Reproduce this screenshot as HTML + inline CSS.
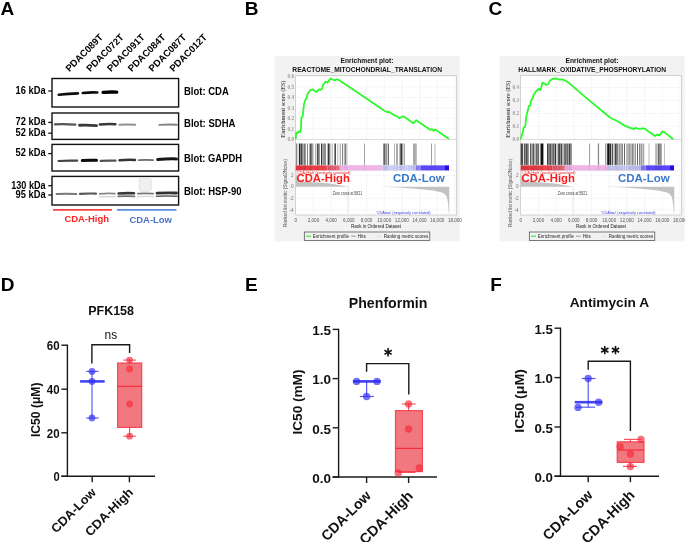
<!DOCTYPE html>
<html><head><meta charset="utf-8"><title>Figure</title>
<style>html,body{margin:0;padding:0;background:#fff;} svg{display:block;filter:blur(0.35px);} text{font-family:"Liberation Sans", sans-serif;}</style>
</head><body>
<svg width="685" height="542" viewBox="0 0 685 542" font-family='"Liberation Sans", sans-serif'>
<defs><filter id="blur1" filterUnits="userSpaceOnUse" x="40" y="70" width="150" height="150"><feGaussianBlur stdDeviation="0.6"/></filter></defs>
<rect width="685" height="542" fill="#fff"/>
<text x="0.60" y="14.60" font-size="19" font-weight="bold" fill="#000" text-anchor="start" >A</text>
<text x="69.40" y="72.20" font-size="9.6" font-weight="bold" fill="#000" text-anchor="start" textLength="48.50" lengthAdjust="spacingAndGlyphs" transform="rotate(-45 69.40 72.20)" >PDAC089T</text>
<text x="90.20" y="72.20" font-size="9.6" font-weight="bold" fill="#000" text-anchor="start" textLength="48.50" lengthAdjust="spacingAndGlyphs" transform="rotate(-45 90.20 72.20)" >PDAC072T</text>
<text x="111.00" y="72.20" font-size="9.6" font-weight="bold" fill="#000" text-anchor="start" textLength="48.50" lengthAdjust="spacingAndGlyphs" transform="rotate(-45 111.00 72.20)" >PDAC091T</text>
<text x="131.80" y="72.20" font-size="9.6" font-weight="bold" fill="#000" text-anchor="start" textLength="48.50" lengthAdjust="spacingAndGlyphs" transform="rotate(-45 131.80 72.20)" >PDAC084T</text>
<text x="152.60" y="72.20" font-size="9.6" font-weight="bold" fill="#000" text-anchor="start" textLength="48.50" lengthAdjust="spacingAndGlyphs" transform="rotate(-45 152.60 72.20)" >PDAC087T</text>
<text x="173.40" y="72.20" font-size="9.6" font-weight="bold" fill="#000" text-anchor="start" textLength="48.50" lengthAdjust="spacingAndGlyphs" transform="rotate(-45 173.40 72.20)" >PDAC012T</text>
<rect x="52.00" y="78.50" width="126.60" height="28.50" fill="none" stroke="#111" stroke-width="1.4" />
<rect x="52.00" y="113.00" width="126.60" height="26.40" fill="none" stroke="#111" stroke-width="1.4" />
<rect x="52.00" y="144.40" width="126.60" height="26.60" fill="none" stroke="#111" stroke-width="1.4" />
<rect x="52.00" y="176.40" width="126.60" height="28.60" fill="none" stroke="#111" stroke-width="1.4" />
<line x1="48.30" y1="91.00" x2="51.80" y2="91.00" stroke="#111" stroke-width="1.3" />
<text x="45.60" y="93.80" font-size="10.3" font-weight="bold" fill="#000" text-anchor="end" textLength="30.00" lengthAdjust="spacingAndGlyphs" >16 kDa</text>
<line x1="48.30" y1="122.40" x2="51.80" y2="122.40" stroke="#111" stroke-width="1.3" />
<text x="45.60" y="125.20" font-size="10.3" font-weight="bold" fill="#000" text-anchor="end" textLength="30.00" lengthAdjust="spacingAndGlyphs" >72 kDa</text>
<line x1="48.30" y1="133.20" x2="51.80" y2="133.20" stroke="#111" stroke-width="1.3" />
<text x="45.60" y="136.00" font-size="10.3" font-weight="bold" fill="#000" text-anchor="end" textLength="30.00" lengthAdjust="spacingAndGlyphs" >52 kDa</text>
<line x1="48.30" y1="153.60" x2="51.80" y2="153.60" stroke="#111" stroke-width="1.3" />
<text x="45.60" y="156.40" font-size="10.3" font-weight="bold" fill="#000" text-anchor="end" textLength="30.00" lengthAdjust="spacingAndGlyphs" >52 kDa</text>
<line x1="48.30" y1="185.70" x2="51.80" y2="185.70" stroke="#111" stroke-width="1.3" />
<text x="45.60" y="188.50" font-size="10.3" font-weight="bold" fill="#000" text-anchor="end" textLength="34.40" lengthAdjust="spacingAndGlyphs" >130 kDa</text>
<line x1="48.30" y1="195.00" x2="51.80" y2="195.00" stroke="#111" stroke-width="1.3" />
<text x="45.60" y="197.80" font-size="10.3" font-weight="bold" fill="#000" text-anchor="end" textLength="30.00" lengthAdjust="spacingAndGlyphs" >95 kDa</text>
<text x="184.00" y="95.00" font-size="10.0" font-weight="bold" fill="#000" text-anchor="start" textLength="44.80" lengthAdjust="spacingAndGlyphs" >Blot: CDA</text>
<text x="184.00" y="127.00" font-size="10.0" font-weight="bold" fill="#000" text-anchor="start" textLength="51.50" lengthAdjust="spacingAndGlyphs" >Blot: SDHA</text>
<text x="184.00" y="161.50" font-size="10.0" font-weight="bold" fill="#000" text-anchor="start" textLength="58.00" lengthAdjust="spacingAndGlyphs" >Blot: GAPDH</text>
<text x="184.00" y="194.70" font-size="10.0" font-weight="bold" fill="#000" text-anchor="start" textLength="57.50" lengthAdjust="spacingAndGlyphs" >Blot: HSP-90</text>
<line x1="53.00" y1="209.80" x2="112.00" y2="209.80" stroke="#f84444" stroke-width="1.7" />
<line x1="117.00" y1="209.80" x2="176.40" y2="209.80" stroke="#5b8fd8" stroke-width="1.7" />
<text x="86.70" y="222.30" font-size="9.8" font-weight="bold" fill="#fa2424" text-anchor="middle" textLength="44.60" lengthAdjust="spacingAndGlyphs" >CDA-High</text>
<text x="150.70" y="222.60" font-size="9.8" font-weight="bold" fill="#4a72c8" text-anchor="middle" textLength="42.60" lengthAdjust="spacingAndGlyphs" >CDA-Low</text>
<g filter="url(#blur1)">
<rect x="139.2" y="178.2" width="12" height="13" rx="2" fill="#f0f0f0" stroke="#e2e2e2" stroke-width="1"/>
<path d="M58.8 94.8 Q68.3 93.6 77.9 93.4" stroke="rgb(16,16,16)" stroke-width="2.6" fill="none" stroke-linecap="round"/>
<path d="M82.8 93.0 Q90.0 92.2 97.3 92.5" stroke="rgb(16,16,16)" stroke-width="2.6" fill="none" stroke-linecap="round"/>
<path d="M103.1 92.4 Q109.9 91.8 116.7 92.1" stroke="rgb(5,5,5)" stroke-width="3.4" fill="none" stroke-linecap="round"/>
<path d="M54.9 124.3 Q65.1 123.9 75.3 124.6" stroke="rgb(85,85,85)" stroke-width="2.3" fill="none" stroke-linecap="round"/>
<path d="M79.5 125.2 Q88.0 124.9 96.5 125.6" stroke="rgb(56,56,56)" stroke-width="2.9" fill="none" stroke-linecap="round"/>
<path d="M99.8 124.5 Q107.6 123.8 115.4 124.2" stroke="rgb(56,56,56)" stroke-width="2.5" fill="none" stroke-linecap="round"/>
<path d="M119.3 124.8 Q127.2 124.3 135.2 124.8" stroke="rgb(144,144,144)" stroke-width="1.9" fill="none" stroke-linecap="round"/>
<path d="M159.4 124.9 Q168.2 124.3 176.9 124.7" stroke="rgb(128,128,128)" stroke-width="1.9" fill="none" stroke-linecap="round"/>
<path d="M58.6 161.0 Q67.9 160.3 77.2 160.7" stroke="rgb(69,69,69)" stroke-width="2.2" fill="none" stroke-linecap="round"/>
<path d="M82.3 160.5 Q89.4 159.9 96.5 160.3" stroke="rgb(8,8,8)" stroke-width="3.0" fill="none" stroke-linecap="round"/>
<path d="M100.7 160.9 Q108.1 160.3 115.5 160.7" stroke="rgb(85,85,85)" stroke-width="2.2" fill="none" stroke-linecap="round"/>
<path d="M119.5 160.3 Q127.2 159.6 135.0 159.9" stroke="rgb(53,53,53)" stroke-width="2.5" fill="none" stroke-linecap="round"/>
<path d="M138.9 160.1 Q145.9 159.6 153.0 160.1" stroke="rgb(106,106,106)" stroke-width="1.9" fill="none" stroke-linecap="round"/>
<path d="M157.7 159.5 Q167.1 158.7 176.5 158.9" stroke="rgb(24,24,24)" stroke-width="3.0" fill="none" stroke-linecap="round"/>
<path d="M56.6 194.1 Q66.5 193.6 76.3 194.1" stroke="rgb(120,120,120)" stroke-width="2.0" fill="none" stroke-linecap="round"/>
<path d="M80.0 193.9 Q88.0 193.2 96.0 193.6" stroke="rgb(88,88,88)" stroke-width="2.1" fill="none" stroke-linecap="round"/>
<path d="M99.5 193.8 Q107.2 193.2 114.8 193.6" stroke="rgb(136,136,136)" stroke-width="1.8" fill="none" stroke-linecap="round"/>
<path d="M118.6 193.5 Q126.3 192.9 134.0 193.3" stroke="rgb(53,53,53)" stroke-width="2.6" fill="none" stroke-linecap="round"/>
<path d="M137.8 193.6 Q145.4 193.1 153.1 193.6" stroke="rgb(120,120,120)" stroke-width="1.7" fill="none" stroke-linecap="round"/>
<path d="M157.0 193.2 Q166.8 192.6 176.5 193.0" stroke="rgb(48,48,48)" stroke-width="2.8" fill="none" stroke-linecap="round"/>
<path d="M118.1 196.4 Q126.3 195.9 134.5 196.4" stroke="rgb(112,112,112)" stroke-width="1.6" fill="none" stroke-linecap="round"/>
<path d="M156.4 196.2 Q166.8 195.7 177.1 196.2" stroke="rgb(96,96,96)" stroke-width="1.6" fill="none" stroke-linecap="round"/>
<path d="M99.3 196.8 Q107.2 196.3 115.0 196.8" stroke="rgb(208,208,208)" stroke-width="1.3" fill="none" stroke-linecap="round"/>
<path d="M137.5 196.6 Q145.4 196.1 153.4 196.6" stroke="rgb(216,216,216)" stroke-width="1.2" fill="none" stroke-linecap="round"/>
</g>
<text x="244.80" y="14.60" font-size="19" font-weight="bold" fill="#000" text-anchor="start" >B</text>
<rect x="274.60" y="56.00" width="185.10" height="185.30" fill="#f2f2f2" stroke="none" stroke-width="1" />
<text x="367.00" y="63.40" font-size="6.7" font-weight="bold" fill="#111" text-anchor="middle" textLength="52.80" lengthAdjust="spacingAndGlyphs" >Enrichment plot:</text>
<text x="367.20" y="72.00" font-size="6.7" font-weight="bold" fill="#111" text-anchor="middle" textLength="149.80" lengthAdjust="spacingAndGlyphs" >REACTOME_MITOCHONDRIAL_TRANSLATION</text>
<rect x="295.70" y="75.60" width="160.90" height="139.40" fill="#fff" stroke="#b8b8b8" stroke-width="0.6" />
<line x1="313.48" y1="75.60" x2="313.48" y2="139.50" stroke="#ececec" stroke-width="0.5" />
<line x1="331.16" y1="75.60" x2="331.16" y2="139.50" stroke="#ececec" stroke-width="0.5" />
<line x1="348.84" y1="75.60" x2="348.84" y2="139.50" stroke="#ececec" stroke-width="0.5" />
<line x1="366.52" y1="75.60" x2="366.52" y2="139.50" stroke="#ececec" stroke-width="0.5" />
<line x1="384.20" y1="75.60" x2="384.20" y2="139.50" stroke="#ececec" stroke-width="0.5" />
<line x1="401.88" y1="75.60" x2="401.88" y2="139.50" stroke="#ececec" stroke-width="0.5" />
<line x1="419.56" y1="75.60" x2="419.56" y2="139.50" stroke="#ececec" stroke-width="0.5" />
<line x1="437.24" y1="75.60" x2="437.24" y2="139.50" stroke="#ececec" stroke-width="0.5" />
<line x1="454.92" y1="75.60" x2="454.92" y2="139.50" stroke="#ececec" stroke-width="0.5" />
<line x1="295.70" y1="139.30" x2="456.60" y2="139.30" stroke="#ececec" stroke-width="0.5" />
<text x="294.10" y="141.00" style="font-family:Liberation Serif, serif" font-size="5.2" font-weight="bold" fill="#999" text-anchor="end">0.0</text>
<line x1="295.70" y1="128.82" x2="456.60" y2="128.82" stroke="#ececec" stroke-width="0.5" />
<text x="294.10" y="130.52" style="font-family:Liberation Serif, serif" font-size="5.2" font-weight="bold" fill="#999" text-anchor="end">0.1</text>
<line x1="295.70" y1="118.34" x2="456.60" y2="118.34" stroke="#ececec" stroke-width="0.5" />
<text x="294.10" y="120.04" style="font-family:Liberation Serif, serif" font-size="5.2" font-weight="bold" fill="#999" text-anchor="end">0.2</text>
<line x1="295.70" y1="107.86" x2="456.60" y2="107.86" stroke="#ececec" stroke-width="0.5" />
<text x="294.10" y="109.56" style="font-family:Liberation Serif, serif" font-size="5.2" font-weight="bold" fill="#999" text-anchor="end">0.3</text>
<line x1="295.70" y1="97.38" x2="456.60" y2="97.38" stroke="#ececec" stroke-width="0.5" />
<text x="294.10" y="99.08" style="font-family:Liberation Serif, serif" font-size="5.2" font-weight="bold" fill="#999" text-anchor="end">0.4</text>
<line x1="295.70" y1="86.90" x2="456.60" y2="86.90" stroke="#ececec" stroke-width="0.5" />
<text x="294.10" y="88.60" style="font-family:Liberation Serif, serif" font-size="5.2" font-weight="bold" fill="#999" text-anchor="end">0.5</text>
<line x1="295.70" y1="76.42" x2="456.60" y2="76.42" stroke="#ececec" stroke-width="0.5" />
<text x="294.10" y="78.12" style="font-family:Liberation Serif, serif" font-size="5.2" font-weight="bold" fill="#999" text-anchor="end">0.6</text>
<polyline points="295.8,139.2 296.2,132.7 297.5,133.3 298.8,131.4 300.1,132.0 301.0,128.8 301.4,117.2 302.7,116.6 303.3,110.7 304.0,104.3 305.3,99.8 306.6,98.5 307.2,95.2 308.5,92.7 310.4,90.1 312.4,89.4 315.0,91.1 316.9,92.0 318.8,89.4 320.8,89.8 322.1,88.5 323.0,84.9 324.6,83.0 325.9,81.7 327.2,82.6 329.2,80.4 330.7,78.5 332.4,79.5 334.6,80.4 336.9,79.4 338.8,80.0 362.7,95.9 384.8,111.0 387.0,112.0 389.2,112.0 394.3,115.2 397.2,116.4 399.4,118.3 402.3,116.4 405.3,117.4 413.3,123.2 416.2,120.3 430.1,129.8 431.8,129.1 433.7,130.7 435.2,129.5 449.1,139.0" fill="none" stroke="#2cfa2c" stroke-width="1.8" stroke-linejoin="round"/>
<rect x="296.20" y="143.50" width="0.70" height="21.50" fill="#555" stroke="none" stroke-width="1" />
<line x1="297.90" y1="143.50" x2="297.90" y2="165.00" stroke="#888" stroke-width="0.6" />
<rect x="299.00" y="143.50" width="1.40" height="21.50" fill="#222" stroke="none" stroke-width="1" />
<rect x="300.80" y="143.50" width="1.00" height="21.50" fill="#111" stroke="none" stroke-width="1" />
<rect x="302.20" y="143.50" width="0.60" height="21.50" fill="#444" stroke="none" stroke-width="1" />
<rect x="303.40" y="143.50" width="1.60" height="21.50" fill="#777" stroke="none" stroke-width="1" />
<rect x="305.00" y="143.50" width="1.00" height="21.50" fill="#999" stroke="none" stroke-width="1" />
<rect x="307.00" y="143.50" width="0.60" height="21.50" fill="#333" stroke="none" stroke-width="1" />
<rect x="309.00" y="143.50" width="0.60" height="21.50" fill="#777" stroke="none" stroke-width="1" />
<rect x="310.00" y="143.50" width="1.00" height="21.50" fill="#555" stroke="none" stroke-width="1" />
<rect x="311.40" y="143.50" width="1.00" height="21.50" fill="#222" stroke="none" stroke-width="1" />
<line x1="313.30" y1="143.50" x2="313.30" y2="165.00" stroke="#999" stroke-width="0.6" />
<rect x="315.50" y="143.50" width="0.70" height="21.50" fill="#666" stroke="none" stroke-width="1" />
<rect x="317.20" y="143.50" width="1.40" height="21.50" fill="#222" stroke="none" stroke-width="1" />
<rect x="319.00" y="143.50" width="0.60" height="21.50" fill="#555" stroke="none" stroke-width="1" />
<rect x="321.00" y="143.50" width="1.40" height="21.50" fill="#333" stroke="none" stroke-width="1" />
<rect x="323.00" y="143.50" width="0.60" height="21.50" fill="#555" stroke="none" stroke-width="1" />
<rect x="324.40" y="143.50" width="1.20" height="21.50" fill="#444" stroke="none" stroke-width="1" />
<rect x="327.00" y="143.50" width="0.60" height="21.50" fill="#888" stroke="none" stroke-width="1" />
<rect x="328.00" y="143.50" width="1.60" height="21.50" fill="#333" stroke="none" stroke-width="1" />
<line x1="330.80" y1="143.50" x2="330.80" y2="165.00" stroke="#777" stroke-width="0.6" />
<rect x="332.00" y="143.50" width="0.60" height="21.50" fill="#999" stroke="none" stroke-width="1" />
<rect x="334.00" y="143.50" width="0.60" height="21.50" fill="#444" stroke="none" stroke-width="1" />
<rect x="335.20" y="143.50" width="0.80" height="21.50" fill="#222" stroke="none" stroke-width="1" />
<line x1="337.80" y1="143.50" x2="337.80" y2="165.00" stroke="#888" stroke-width="0.6" />
<line x1="340.30" y1="143.50" x2="340.30" y2="165.00" stroke="#555" stroke-width="0.6" />
<rect x="342.00" y="143.50" width="0.60" height="21.50" fill="#333" stroke="none" stroke-width="1" />
<line x1="344.30" y1="143.50" x2="344.30" y2="165.00" stroke="#666" stroke-width="0.6" />
<rect x="345.00" y="143.50" width="0.60" height="21.50" fill="#222" stroke="none" stroke-width="1" />
<line x1="346.90" y1="143.50" x2="346.90" y2="165.00" stroke="#777" stroke-width="0.6" />
<rect x="364.40" y="143.50" width="0.60" height="21.50" fill="#666" stroke="none" stroke-width="1" />
<rect x="383.10" y="143.50" width="0.90" height="21.50" fill="#888" stroke="none" stroke-width="1" />
<rect x="384.00" y="143.50" width="1.60" height="21.50" fill="#666" stroke="none" stroke-width="1" />
<rect x="386.00" y="143.50" width="1.00" height="21.50" fill="#999" stroke="none" stroke-width="1" />
<rect x="387.80" y="143.50" width="0.80" height="21.50" fill="#111" stroke="none" stroke-width="1" />
<rect x="394.30" y="143.50" width="0.70" height="21.50" fill="#999" stroke="none" stroke-width="1" />
<rect x="396.40" y="143.50" width="1.20" height="21.50" fill="#777" stroke="none" stroke-width="1" />
<rect x="399.60" y="143.50" width="1.00" height="21.50" fill="#666" stroke="none" stroke-width="1" />
<rect x="400.60" y="143.50" width="1.80" height="21.50" fill="#333" stroke="none" stroke-width="1" />
<line x1="403.10" y1="143.50" x2="403.10" y2="165.00" stroke="#888" stroke-width="0.6" />
<rect x="404.00" y="143.50" width="0.60" height="21.50" fill="#777" stroke="none" stroke-width="1" />
<rect x="413.40" y="143.50" width="0.80" height="21.50" fill="#777" stroke="none" stroke-width="1" />
<rect x="414.60" y="143.50" width="0.80" height="21.50" fill="#444" stroke="none" stroke-width="1" />
<rect x="416.00" y="143.50" width="0.60" height="21.50" fill="#999" stroke="none" stroke-width="1" />
<rect x="431.10" y="143.50" width="0.70" height="21.50" fill="#777" stroke="none" stroke-width="1" />
<rect x="434.60" y="143.50" width="0.80" height="21.50" fill="#aaa" stroke="none" stroke-width="1" />
<line x1="295.70" y1="139.60" x2="456.60" y2="139.60" stroke="#c4c4c4" stroke-width="0.6" />
<rect x="295.80" y="165.20" width="4.20" height="5.40" fill="#ec3440" stroke="none" stroke-width="1" />
<rect x="300.00" y="165.20" width="6.00" height="5.40" fill="#ee3a42" stroke="none" stroke-width="1" />
<rect x="306.00" y="165.20" width="6.00" height="5.40" fill="#ec3c44" stroke="none" stroke-width="1" />
<rect x="312.00" y="165.20" width="6.00" height="5.40" fill="#f04248" stroke="none" stroke-width="1" />
<rect x="318.00" y="165.20" width="6.00" height="5.40" fill="#f0464c" stroke="none" stroke-width="1" />
<rect x="324.00" y="165.20" width="3.50" height="5.40" fill="#ee4a52" stroke="none" stroke-width="1" />
<rect x="327.50" y="165.20" width="4.50" height="5.40" fill="#e85a70" stroke="none" stroke-width="1" />
<rect x="332.00" y="165.20" width="4.00" height="5.40" fill="#e86478" stroke="none" stroke-width="1" />
<rect x="336.00" y="165.20" width="3.80" height="5.40" fill="#ea7084" stroke="none" stroke-width="1" />
<rect x="339.80" y="165.20" width="42.70" height="5.40" fill="#f0b4e6" stroke="none" stroke-width="1" />
<rect x="382.50" y="165.20" width="25.50" height="5.40" fill="#d0d0fa" stroke="none" stroke-width="1" />
<rect x="408.00" y="165.20" width="8.00" height="5.40" fill="#c4c4f8" stroke="none" stroke-width="1" />
<rect x="416.00" y="165.20" width="4.60" height="5.40" fill="#8a7cfa" stroke="none" stroke-width="1" />
<rect x="420.60" y="165.20" width="24.40" height="5.40" fill="#5c46fa" stroke="none" stroke-width="1" />
<rect x="445.00" y="165.20" width="4.00" height="5.40" fill="#2a08ee" stroke="none" stroke-width="1" />
<rect x="296.20" y="165.20" width="0.70" height="5.40" fill="#000" stroke="none" stroke-width="1" fill-opacity="0.10"/>
<rect x="297.60" y="165.20" width="0.60" height="5.40" fill="#000" stroke="none" stroke-width="1" fill-opacity="0.10"/>
<rect x="299.00" y="165.20" width="1.40" height="5.40" fill="#000" stroke="none" stroke-width="1" fill-opacity="0.10"/>
<rect x="300.80" y="165.20" width="1.00" height="5.40" fill="#000" stroke="none" stroke-width="1" fill-opacity="0.10"/>
<rect x="302.20" y="165.20" width="0.60" height="5.40" fill="#000" stroke="none" stroke-width="1" fill-opacity="0.10"/>
<rect x="303.40" y="165.20" width="1.60" height="5.40" fill="#000" stroke="none" stroke-width="1" fill-opacity="0.10"/>
<rect x="305.00" y="165.20" width="1.00" height="5.40" fill="#000" stroke="none" stroke-width="1" fill-opacity="0.10"/>
<rect x="307.00" y="165.20" width="0.60" height="5.40" fill="#000" stroke="none" stroke-width="1" fill-opacity="0.10"/>
<rect x="309.00" y="165.20" width="0.60" height="5.40" fill="#000" stroke="none" stroke-width="1" fill-opacity="0.10"/>
<rect x="310.00" y="165.20" width="1.00" height="5.40" fill="#000" stroke="none" stroke-width="1" fill-opacity="0.10"/>
<rect x="311.40" y="165.20" width="1.00" height="5.40" fill="#000" stroke="none" stroke-width="1" fill-opacity="0.10"/>
<rect x="313.00" y="165.20" width="0.60" height="5.40" fill="#000" stroke="none" stroke-width="1" fill-opacity="0.10"/>
<rect x="315.50" y="165.20" width="0.70" height="5.40" fill="#000" stroke="none" stroke-width="1" fill-opacity="0.10"/>
<rect x="317.20" y="165.20" width="1.40" height="5.40" fill="#000" stroke="none" stroke-width="1" fill-opacity="0.10"/>
<rect x="319.00" y="165.20" width="0.60" height="5.40" fill="#000" stroke="none" stroke-width="1" fill-opacity="0.10"/>
<rect x="321.00" y="165.20" width="1.40" height="5.40" fill="#000" stroke="none" stroke-width="1" fill-opacity="0.10"/>
<rect x="323.00" y="165.20" width="0.60" height="5.40" fill="#000" stroke="none" stroke-width="1" fill-opacity="0.10"/>
<rect x="324.40" y="165.20" width="1.20" height="5.40" fill="#000" stroke="none" stroke-width="1" fill-opacity="0.10"/>
<rect x="327.00" y="165.20" width="0.60" height="5.40" fill="#000" stroke="none" stroke-width="1" fill-opacity="0.10"/>
<rect x="328.00" y="165.20" width="1.60" height="5.40" fill="#000" stroke="none" stroke-width="1" fill-opacity="0.10"/>
<rect x="330.50" y="165.20" width="0.60" height="5.40" fill="#000" stroke="none" stroke-width="1" fill-opacity="0.10"/>
<rect x="332.00" y="165.20" width="0.60" height="5.40" fill="#000" stroke="none" stroke-width="1" fill-opacity="0.10"/>
<rect x="334.00" y="165.20" width="0.60" height="5.40" fill="#000" stroke="none" stroke-width="1" fill-opacity="0.10"/>
<rect x="335.20" y="165.20" width="0.80" height="5.40" fill="#000" stroke="none" stroke-width="1" fill-opacity="0.10"/>
<rect x="337.50" y="165.20" width="0.60" height="5.40" fill="#000" stroke="none" stroke-width="1" fill-opacity="0.10"/>
<rect x="340.00" y="165.20" width="0.60" height="5.40" fill="#000" stroke="none" stroke-width="1" fill-opacity="0.10"/>
<rect x="342.00" y="165.20" width="0.60" height="5.40" fill="#000" stroke="none" stroke-width="1" fill-opacity="0.10"/>
<rect x="344.00" y="165.20" width="0.60" height="5.40" fill="#000" stroke="none" stroke-width="1" fill-opacity="0.10"/>
<rect x="345.00" y="165.20" width="0.60" height="5.40" fill="#000" stroke="none" stroke-width="1" fill-opacity="0.10"/>
<rect x="346.60" y="165.20" width="0.60" height="5.40" fill="#000" stroke="none" stroke-width="1" fill-opacity="0.10"/>
<rect x="364.40" y="165.20" width="0.60" height="5.40" fill="#000" stroke="none" stroke-width="1" fill-opacity="0.10"/>
<rect x="383.10" y="165.20" width="0.90" height="5.40" fill="#000" stroke="none" stroke-width="1" fill-opacity="0.10"/>
<rect x="384.00" y="165.20" width="1.60" height="5.40" fill="#000" stroke="none" stroke-width="1" fill-opacity="0.10"/>
<rect x="386.00" y="165.20" width="1.00" height="5.40" fill="#000" stroke="none" stroke-width="1" fill-opacity="0.10"/>
<rect x="387.80" y="165.20" width="0.80" height="5.40" fill="#000" stroke="none" stroke-width="1" fill-opacity="0.10"/>
<rect x="394.30" y="165.20" width="0.70" height="5.40" fill="#000" stroke="none" stroke-width="1" fill-opacity="0.10"/>
<rect x="396.40" y="165.20" width="1.20" height="5.40" fill="#000" stroke="none" stroke-width="1" fill-opacity="0.10"/>
<rect x="399.60" y="165.20" width="1.00" height="5.40" fill="#000" stroke="none" stroke-width="1" fill-opacity="0.10"/>
<rect x="400.60" y="165.20" width="1.80" height="5.40" fill="#000" stroke="none" stroke-width="1" fill-opacity="0.10"/>
<rect x="402.80" y="165.20" width="0.60" height="5.40" fill="#000" stroke="none" stroke-width="1" fill-opacity="0.10"/>
<rect x="404.00" y="165.20" width="0.60" height="5.40" fill="#000" stroke="none" stroke-width="1" fill-opacity="0.10"/>
<rect x="413.40" y="165.20" width="0.80" height="5.40" fill="#000" stroke="none" stroke-width="1" fill-opacity="0.10"/>
<rect x="414.60" y="165.20" width="0.80" height="5.40" fill="#000" stroke="none" stroke-width="1" fill-opacity="0.10"/>
<rect x="416.00" y="165.20" width="0.60" height="5.40" fill="#000" stroke="none" stroke-width="1" fill-opacity="0.10"/>
<rect x="431.10" y="165.20" width="0.70" height="5.40" fill="#000" stroke="none" stroke-width="1" fill-opacity="0.10"/>
<rect x="434.60" y="165.20" width="0.80" height="5.40" fill="#000" stroke="none" stroke-width="1" fill-opacity="0.10"/>
<line x1="295.70" y1="165.20" x2="456.60" y2="165.20" stroke="#d8d8d8" stroke-width="0.4" />
<line x1="295.70" y1="170.60" x2="456.60" y2="170.60" stroke="#d8d8d8" stroke-width="0.4" />
<line x1="295.70" y1="175.40" x2="456.60" y2="175.40" stroke="#ececec" stroke-width="0.5" />
<text x="293.50" y="177.00" font-size="4.6" font-weight="normal" fill="#777" text-anchor="end" >2</text>
<text x="293.50" y="188.40" font-size="4.6" font-weight="normal" fill="#777" text-anchor="end" >0</text>
<line x1="295.70" y1="198.30" x2="456.60" y2="198.30" stroke="#ececec" stroke-width="0.5" />
<text x="293.50" y="199.90" font-size="4.6" font-weight="normal" fill="#777" text-anchor="end" >-2</text>
<line x1="295.70" y1="209.90" x2="456.60" y2="209.90" stroke="#ececec" stroke-width="0.5" />
<text x="293.50" y="211.50" font-size="4.6" font-weight="normal" fill="#777" text-anchor="end" >-4</text>
<line x1="313.48" y1="171.00" x2="313.48" y2="215.00" stroke="#ececec" stroke-width="0.5" />
<line x1="331.16" y1="171.00" x2="331.16" y2="215.00" stroke="#ececec" stroke-width="0.5" />
<line x1="348.84" y1="171.00" x2="348.84" y2="215.00" stroke="#ececec" stroke-width="0.5" />
<line x1="366.52" y1="171.00" x2="366.52" y2="215.00" stroke="#ececec" stroke-width="0.5" />
<line x1="384.20" y1="171.00" x2="384.20" y2="215.00" stroke="#ececec" stroke-width="0.5" />
<line x1="401.88" y1="171.00" x2="401.88" y2="215.00" stroke="#ececec" stroke-width="0.5" />
<line x1="419.56" y1="171.00" x2="419.56" y2="215.00" stroke="#ececec" stroke-width="0.5" />
<line x1="437.24" y1="171.00" x2="437.24" y2="215.00" stroke="#ececec" stroke-width="0.5" />
<line x1="454.92" y1="171.00" x2="454.92" y2="215.00" stroke="#ececec" stroke-width="0.5" />
<path d="M296 186.8 L296 171.5 L297 177 L299 179.8 L305 181.4 L330 183.6 L348 186.8 Z" fill="#c2c2c2"/>
<path d="M381.8 186.8 L399.8 187.5 L418.4 189.0 L433.3 190.6 L442 192.4 L445.1 194.3 L447 197.4 L448.2 204.8 L448.8 213.2 L449.3 213.2 L449.3 186.8 Z" fill="#c2c2c2"/>
<line x1="348.00" y1="186.80" x2="348.00" y2="215.00" stroke="#aaaaaa" stroke-width="0.5" stroke-dasharray="1,1"/>
<text x="347.50" y="194.80" font-size="4.6" font-weight="normal" fill="#444" text-anchor="middle" textLength="29.40" lengthAdjust="spacingAndGlyphs" >Zero cross at 5821</text>
<text x="403.20" y="214.00" font-size="4.3" font-weight="normal" fill="#3b3be0" text-anchor="middle" textLength="54.50" lengthAdjust="spacingAndGlyphs" >'CDAlow' (negatively correlated)</text>
<text x="323.60" y="174.00" font-size="4.3" font-weight="normal" fill="#e02020" text-anchor="middle" textLength="54.00" lengthAdjust="spacingAndGlyphs" >'CDA-High' (positively correlated)</text>
<text x="323.20" y="181.60" font-size="11.2" font-weight="bold" fill="#fc1c1c" text-anchor="middle" textLength="53.40" lengthAdjust="spacingAndGlyphs" >CDA-High</text>
<text x="418.80" y="181.60" font-size="11.2" font-weight="bold" fill="#3a78c8" text-anchor="middle" textLength="51.80" lengthAdjust="spacingAndGlyphs" >CDA-Low</text>
<text x="295.80" y="221.70" font-size="4.6" font-weight="normal" fill="#555" text-anchor="middle" >0</text>
<text x="313.48" y="221.70" font-size="4.6" font-weight="normal" fill="#555" text-anchor="middle" >2,000</text>
<text x="331.16" y="221.70" font-size="4.6" font-weight="normal" fill="#555" text-anchor="middle" >4,000</text>
<text x="348.84" y="221.70" font-size="4.6" font-weight="normal" fill="#555" text-anchor="middle" >6,000</text>
<text x="366.52" y="221.70" font-size="4.6" font-weight="normal" fill="#555" text-anchor="middle" >8,000</text>
<text x="384.20" y="221.70" font-size="4.6" font-weight="normal" fill="#555" text-anchor="middle" >10,000</text>
<text x="401.88" y="221.70" font-size="4.6" font-weight="normal" fill="#555" text-anchor="middle" >12,000</text>
<text x="419.56" y="221.70" font-size="4.6" font-weight="normal" fill="#555" text-anchor="middle" >14,000</text>
<text x="437.24" y="221.70" font-size="4.6" font-weight="normal" fill="#555" text-anchor="middle" >16,000</text>
<text x="454.92" y="221.70" font-size="4.6" font-weight="normal" fill="#555" text-anchor="middle" >18,000</text>
<text x="376.00" y="227.60" font-size="5.4" font-weight="normal" fill="#222" text-anchor="middle" textLength="50.00" lengthAdjust="spacingAndGlyphs" >Rank in Ordered Dataset</text>
<text x="284.90" y="109.2" style="font-family:Liberation Serif, serif" font-size="6.6" font-weight="bold" fill="#555" text-anchor="middle" textLength="57" lengthAdjust="spacingAndGlyphs" transform="rotate(-90 284.90 109.2)">Enrichment score (ES)</text>
<text x="287.00" y="193.00" font-size="5.0" font-weight="normal" fill="#555" text-anchor="middle" textLength="68.00" lengthAdjust="spacingAndGlyphs" transform="rotate(-90 287.00 193.00)" >Ranked list metric (Signal2Noise)</text>
<rect x="304.30" y="232.00" width="125.50" height="8.40" fill="#f2f2f2" stroke="#444" stroke-width="0.7" />
<line x1="306.00" y1="236.20" x2="311.00" y2="236.20" stroke="#3fe83f" stroke-width="1.2" />
<text x="312.70" y="237.90" font-size="4.9" font-weight="normal" fill="#222" text-anchor="start" textLength="36.30" lengthAdjust="spacingAndGlyphs" >Enrichment profile</text>
<line x1="351.00" y1="236.20" x2="356.00" y2="236.20" stroke="#666" stroke-width="0.6" />
<text x="357.80" y="237.90" font-size="4.9" font-weight="normal" fill="#222" text-anchor="start" textLength="8.00" lengthAdjust="spacingAndGlyphs" >Hits</text>
<line x1="376.60" y1="236.20" x2="381.70" y2="236.20" stroke="#ccc" stroke-width="0.6" />
<text x="383.80" y="237.90" font-size="4.9" font-weight="normal" fill="#222" text-anchor="start" textLength="44.50" lengthAdjust="spacingAndGlyphs" >Ranking metric scores</text>
<text x="488.60" y="14.60" font-size="19" font-weight="bold" fill="#000" text-anchor="start" >C</text>
<rect x="499.60" y="56.00" width="185.10" height="185.30" fill="#f2f2f2" stroke="none" stroke-width="1" />
<text x="592.00" y="63.40" font-size="6.7" font-weight="bold" fill="#111" text-anchor="middle" textLength="52.80" lengthAdjust="spacingAndGlyphs" >Enrichment plot:</text>
<text x="592.20" y="72.00" font-size="6.7" font-weight="bold" fill="#111" text-anchor="middle" textLength="147.70" lengthAdjust="spacingAndGlyphs" >HALLMARK_OXIDATIVE_PHOSPHORYLATION</text>
<rect x="520.70" y="75.60" width="160.90" height="139.40" fill="#fff" stroke="#b8b8b8" stroke-width="0.6" />
<line x1="538.48" y1="75.60" x2="538.48" y2="139.50" stroke="#ececec" stroke-width="0.5" />
<line x1="556.16" y1="75.60" x2="556.16" y2="139.50" stroke="#ececec" stroke-width="0.5" />
<line x1="573.84" y1="75.60" x2="573.84" y2="139.50" stroke="#ececec" stroke-width="0.5" />
<line x1="591.52" y1="75.60" x2="591.52" y2="139.50" stroke="#ececec" stroke-width="0.5" />
<line x1="609.20" y1="75.60" x2="609.20" y2="139.50" stroke="#ececec" stroke-width="0.5" />
<line x1="626.88" y1="75.60" x2="626.88" y2="139.50" stroke="#ececec" stroke-width="0.5" />
<line x1="644.56" y1="75.60" x2="644.56" y2="139.50" stroke="#ececec" stroke-width="0.5" />
<line x1="662.24" y1="75.60" x2="662.24" y2="139.50" stroke="#ececec" stroke-width="0.5" />
<line x1="679.92" y1="75.60" x2="679.92" y2="139.50" stroke="#ececec" stroke-width="0.5" />
<line x1="520.70" y1="139.30" x2="681.60" y2="139.30" stroke="#ececec" stroke-width="0.5" />
<text x="519.10" y="141.00" style="font-family:Liberation Serif, serif" font-size="5.2" font-weight="bold" fill="#999" text-anchor="end">0.0</text>
<line x1="520.70" y1="126.35" x2="681.60" y2="126.35" stroke="#ececec" stroke-width="0.5" />
<text x="519.10" y="128.05" style="font-family:Liberation Serif, serif" font-size="5.2" font-weight="bold" fill="#999" text-anchor="end">0.1</text>
<line x1="520.70" y1="113.40" x2="681.60" y2="113.40" stroke="#ececec" stroke-width="0.5" />
<text x="519.10" y="115.10" style="font-family:Liberation Serif, serif" font-size="5.2" font-weight="bold" fill="#999" text-anchor="end">0.2</text>
<line x1="520.70" y1="100.45" x2="681.60" y2="100.45" stroke="#ececec" stroke-width="0.5" />
<text x="519.10" y="102.15" style="font-family:Liberation Serif, serif" font-size="5.2" font-weight="bold" fill="#999" text-anchor="end">0.3</text>
<line x1="520.70" y1="87.50" x2="681.60" y2="87.50" stroke="#ececec" stroke-width="0.5" />
<text x="519.10" y="89.20" style="font-family:Liberation Serif, serif" font-size="5.2" font-weight="bold" fill="#999" text-anchor="end">0.4</text>
<polyline points="520.6,139.2 521.9,135.3 523.8,127.5 525.1,126.9 526.4,115.9 527.7,110.7 529.0,105.8 530.3,105.6 530.9,101.1 532.2,99.1 533.5,95.2 535.4,92.0 538.7,89.0 540.2,90.1 541.2,87.5 542.5,82.6 544.5,83.6 546.4,84.9 548.4,84.0 549.6,81.0 552.2,79.1 554.8,78.5 556.7,78.7 559.3,79.7 562.6,79.5 565.8,80.8 569.7,83.6 574.8,88.1 587.7,99.1 609.1,116.8 611.3,118.3 614.9,120.0 618.6,121.8 624.4,125.6 628.8,127.3 633.9,129.2 635.4,127.8 639.0,128.8 643.4,128.4 644.9,128.8 649.2,132.0 655.1,136.1 657.3,134.6 659.5,135.4 662.4,131.4 664.6,132.4 673.3,139.3" fill="none" stroke="#2cfa2c" stroke-width="1.8" stroke-linejoin="round"/>
<rect x="520.70" y="143.50" width="1.20" height="21.50" fill="#333" stroke="none" stroke-width="1" />
<rect x="522.20" y="143.50" width="0.90" height="21.50" fill="#222" stroke="none" stroke-width="1" />
<rect x="524.10" y="143.50" width="1.10" height="21.50" fill="#444" stroke="none" stroke-width="1" />
<rect x="525.60" y="143.50" width="1.20" height="21.50" fill="#222" stroke="none" stroke-width="1" />
<rect x="527.20" y="143.50" width="1.40" height="21.50" fill="#555" stroke="none" stroke-width="1" />
<rect x="530.20" y="143.50" width="0.80" height="21.50" fill="#333" stroke="none" stroke-width="1" />
<rect x="531.40" y="143.50" width="1.40" height="21.50" fill="#777" stroke="none" stroke-width="1" />
<rect x="533.00" y="143.50" width="1.00" height="21.50" fill="#555" stroke="none" stroke-width="1" />
<rect x="534.40" y="143.50" width="1.00" height="21.50" fill="#888" stroke="none" stroke-width="1" />
<rect x="535.80" y="143.50" width="1.00" height="21.50" fill="#444" stroke="none" stroke-width="1" />
<rect x="537.20" y="143.50" width="1.90" height="21.50" fill="#666" stroke="none" stroke-width="1" />
<rect x="540.50" y="143.50" width="2.90" height="21.50" fill="#111" stroke="none" stroke-width="1" />
<rect x="547.00" y="143.50" width="1.00" height="21.50" fill="#444" stroke="none" stroke-width="1" />
<rect x="548.40" y="143.50" width="1.20" height="21.50" fill="#222" stroke="none" stroke-width="1" />
<rect x="550.00" y="143.50" width="1.20" height="21.50" fill="#555" stroke="none" stroke-width="1" />
<rect x="551.60" y="143.50" width="1.00" height="21.50" fill="#333" stroke="none" stroke-width="1" />
<rect x="553.00" y="143.50" width="1.20" height="21.50" fill="#666" stroke="none" stroke-width="1" />
<rect x="554.60" y="143.50" width="1.60" height="21.50" fill="#333" stroke="none" stroke-width="1" />
<rect x="557.70" y="143.50" width="1.10" height="21.50" fill="#333" stroke="none" stroke-width="1" />
<rect x="559.20" y="143.50" width="1.20" height="21.50" fill="#222" stroke="none" stroke-width="1" />
<rect x="560.80" y="143.50" width="1.60" height="21.50" fill="#444" stroke="none" stroke-width="1" />
<rect x="563.60" y="143.50" width="1.20" height="21.50" fill="#555" stroke="none" stroke-width="1" />
<rect x="565.20" y="143.50" width="1.40" height="21.50" fill="#444" stroke="none" stroke-width="1" />
<rect x="567.00" y="143.50" width="1.20" height="21.50" fill="#666" stroke="none" stroke-width="1" />
<rect x="568.60" y="143.50" width="1.40" height="21.50" fill="#444" stroke="none" stroke-width="1" />
<rect x="570.30" y="143.50" width="1.30" height="21.50" fill="#555" stroke="none" stroke-width="1" />
<line x1="589.60" y1="143.50" x2="589.60" y2="165.00" stroke="#555" stroke-width="0.6" />
<rect x="597.90" y="143.50" width="0.60" height="21.50" fill="#555" stroke="none" stroke-width="1" />
<line x1="598.60" y1="143.50" x2="598.60" y2="165.00" stroke="#666" stroke-width="0.6" />
<rect x="605.00" y="143.50" width="0.60" height="21.50" fill="#666" stroke="none" stroke-width="1" />
<rect x="606.80" y="143.50" width="1.20" height="21.50" fill="#444" stroke="none" stroke-width="1" />
<rect x="608.00" y="143.50" width="1.40" height="21.50" fill="#111" stroke="none" stroke-width="1" />
<rect x="609.40" y="143.50" width="1.60" height="21.50" fill="#333" stroke="none" stroke-width="1" />
<rect x="611.60" y="143.50" width="1.40" height="21.50" fill="#555" stroke="none" stroke-width="1" />
<rect x="613.60" y="143.50" width="1.00" height="21.50" fill="#888" stroke="none" stroke-width="1" />
<rect x="615.00" y="143.50" width="1.00" height="21.50" fill="#444" stroke="none" stroke-width="1" />
<rect x="617.00" y="143.50" width="1.00" height="21.50" fill="#888" stroke="none" stroke-width="1" />
<rect x="618.40" y="143.50" width="0.60" height="21.50" fill="#999" stroke="none" stroke-width="1" />
<rect x="620.60" y="143.50" width="1.00" height="21.50" fill="#777" stroke="none" stroke-width="1" />
<rect x="622.00" y="143.50" width="1.00" height="21.50" fill="#888" stroke="none" stroke-width="1" />
<rect x="624.00" y="143.50" width="1.00" height="21.50" fill="#666" stroke="none" stroke-width="1" />
<rect x="626.00" y="143.50" width="0.60" height="21.50" fill="#888" stroke="none" stroke-width="1" />
<rect x="627.40" y="143.50" width="1.20" height="21.50" fill="#888" stroke="none" stroke-width="1" />
<rect x="628.80" y="143.50" width="1.60" height="21.50" fill="#999" stroke="none" stroke-width="1" />
<rect x="630.40" y="143.50" width="1.40" height="21.50" fill="#aaa" stroke="none" stroke-width="1" />
<rect x="632.00" y="143.50" width="1.00" height="21.50" fill="#888" stroke="none" stroke-width="1" />
<rect x="633.40" y="143.50" width="1.00" height="21.50" fill="#777" stroke="none" stroke-width="1" />
<rect x="635.00" y="143.50" width="1.00" height="21.50" fill="#999" stroke="none" stroke-width="1" />
<rect x="637.00" y="143.50" width="1.00" height="21.50" fill="#666" stroke="none" stroke-width="1" />
<rect x="639.00" y="143.50" width="1.00" height="21.50" fill="#888" stroke="none" stroke-width="1" />
<rect x="640.40" y="143.50" width="1.60" height="21.50" fill="#999" stroke="none" stroke-width="1" />
<rect x="642.40" y="143.50" width="1.90" height="21.50" fill="#aaa" stroke="none" stroke-width="1" />
<rect x="616.00" y="143.50" width="1.00" height="21.50" fill="#777" stroke="none" stroke-width="1" />
<rect x="619.00" y="143.50" width="1.40" height="21.50" fill="#999" stroke="none" stroke-width="1" />
<rect x="648.60" y="143.50" width="0.80" height="21.50" fill="#aaa" stroke="none" stroke-width="1" />
<rect x="655.40" y="143.50" width="1.00" height="21.50" fill="#999" stroke="none" stroke-width="1" />
<rect x="656.60" y="143.50" width="0.80" height="21.50" fill="#888" stroke="none" stroke-width="1" />
<rect x="658.00" y="143.50" width="1.40" height="21.50" fill="#666" stroke="none" stroke-width="1" />
<rect x="659.60" y="143.50" width="1.00" height="21.50" fill="#444" stroke="none" stroke-width="1" />
<rect x="661.40" y="143.50" width="0.60" height="21.50" fill="#777" stroke="none" stroke-width="1" />
<rect x="664.40" y="143.50" width="0.60" height="21.50" fill="#999" stroke="none" stroke-width="1" />
<line x1="520.70" y1="139.60" x2="681.60" y2="139.60" stroke="#c4c4c4" stroke-width="0.6" />
<rect x="520.80" y="165.20" width="4.20" height="5.40" fill="#ec3440" stroke="none" stroke-width="1" />
<rect x="525.00" y="165.20" width="6.00" height="5.40" fill="#ee3a42" stroke="none" stroke-width="1" />
<rect x="531.00" y="165.20" width="6.00" height="5.40" fill="#ec3c44" stroke="none" stroke-width="1" />
<rect x="537.00" y="165.20" width="6.00" height="5.40" fill="#f04248" stroke="none" stroke-width="1" />
<rect x="543.00" y="165.20" width="6.00" height="5.40" fill="#f0464c" stroke="none" stroke-width="1" />
<rect x="549.00" y="165.20" width="3.50" height="5.40" fill="#ee4a52" stroke="none" stroke-width="1" />
<rect x="552.50" y="165.20" width="4.50" height="5.40" fill="#e85a70" stroke="none" stroke-width="1" />
<rect x="557.00" y="165.20" width="4.00" height="5.40" fill="#e86478" stroke="none" stroke-width="1" />
<rect x="561.00" y="165.20" width="3.80" height="5.40" fill="#ea7084" stroke="none" stroke-width="1" />
<rect x="564.80" y="165.20" width="42.70" height="5.40" fill="#f0b4e6" stroke="none" stroke-width="1" />
<rect x="607.50" y="165.20" width="25.50" height="5.40" fill="#d0d0fa" stroke="none" stroke-width="1" />
<rect x="633.00" y="165.20" width="8.00" height="5.40" fill="#c4c4f8" stroke="none" stroke-width="1" />
<rect x="641.00" y="165.20" width="4.60" height="5.40" fill="#8a7cfa" stroke="none" stroke-width="1" />
<rect x="645.60" y="165.20" width="24.40" height="5.40" fill="#5c46fa" stroke="none" stroke-width="1" />
<rect x="670.00" y="165.20" width="4.00" height="5.40" fill="#2a08ee" stroke="none" stroke-width="1" />
<rect x="520.70" y="165.20" width="1.20" height="5.40" fill="#000" stroke="none" stroke-width="1" fill-opacity="0.10"/>
<rect x="522.20" y="165.20" width="0.90" height="5.40" fill="#000" stroke="none" stroke-width="1" fill-opacity="0.10"/>
<rect x="524.10" y="165.20" width="1.10" height="5.40" fill="#000" stroke="none" stroke-width="1" fill-opacity="0.10"/>
<rect x="525.60" y="165.20" width="1.20" height="5.40" fill="#000" stroke="none" stroke-width="1" fill-opacity="0.10"/>
<rect x="527.20" y="165.20" width="1.40" height="5.40" fill="#000" stroke="none" stroke-width="1" fill-opacity="0.10"/>
<rect x="530.20" y="165.20" width="0.80" height="5.40" fill="#000" stroke="none" stroke-width="1" fill-opacity="0.10"/>
<rect x="531.40" y="165.20" width="1.40" height="5.40" fill="#000" stroke="none" stroke-width="1" fill-opacity="0.10"/>
<rect x="533.00" y="165.20" width="1.00" height="5.40" fill="#000" stroke="none" stroke-width="1" fill-opacity="0.10"/>
<rect x="534.40" y="165.20" width="1.00" height="5.40" fill="#000" stroke="none" stroke-width="1" fill-opacity="0.10"/>
<rect x="535.80" y="165.20" width="1.00" height="5.40" fill="#000" stroke="none" stroke-width="1" fill-opacity="0.10"/>
<rect x="537.20" y="165.20" width="1.90" height="5.40" fill="#000" stroke="none" stroke-width="1" fill-opacity="0.10"/>
<rect x="540.50" y="165.20" width="2.90" height="5.40" fill="#000" stroke="none" stroke-width="1" fill-opacity="0.10"/>
<rect x="547.00" y="165.20" width="1.00" height="5.40" fill="#000" stroke="none" stroke-width="1" fill-opacity="0.10"/>
<rect x="548.40" y="165.20" width="1.20" height="5.40" fill="#000" stroke="none" stroke-width="1" fill-opacity="0.10"/>
<rect x="550.00" y="165.20" width="1.20" height="5.40" fill="#000" stroke="none" stroke-width="1" fill-opacity="0.10"/>
<rect x="551.60" y="165.20" width="1.00" height="5.40" fill="#000" stroke="none" stroke-width="1" fill-opacity="0.10"/>
<rect x="553.00" y="165.20" width="1.20" height="5.40" fill="#000" stroke="none" stroke-width="1" fill-opacity="0.10"/>
<rect x="554.60" y="165.20" width="1.60" height="5.40" fill="#000" stroke="none" stroke-width="1" fill-opacity="0.10"/>
<rect x="557.70" y="165.20" width="1.10" height="5.40" fill="#000" stroke="none" stroke-width="1" fill-opacity="0.10"/>
<rect x="559.20" y="165.20" width="1.20" height="5.40" fill="#000" stroke="none" stroke-width="1" fill-opacity="0.10"/>
<rect x="560.80" y="165.20" width="1.60" height="5.40" fill="#000" stroke="none" stroke-width="1" fill-opacity="0.10"/>
<rect x="563.60" y="165.20" width="1.20" height="5.40" fill="#000" stroke="none" stroke-width="1" fill-opacity="0.10"/>
<rect x="565.20" y="165.20" width="1.40" height="5.40" fill="#000" stroke="none" stroke-width="1" fill-opacity="0.10"/>
<rect x="567.00" y="165.20" width="1.20" height="5.40" fill="#000" stroke="none" stroke-width="1" fill-opacity="0.10"/>
<rect x="568.60" y="165.20" width="1.40" height="5.40" fill="#000" stroke="none" stroke-width="1" fill-opacity="0.10"/>
<rect x="570.30" y="165.20" width="1.30" height="5.40" fill="#000" stroke="none" stroke-width="1" fill-opacity="0.10"/>
<rect x="589.30" y="165.20" width="0.60" height="5.40" fill="#000" stroke="none" stroke-width="1" fill-opacity="0.10"/>
<rect x="597.90" y="165.20" width="0.60" height="5.40" fill="#000" stroke="none" stroke-width="1" fill-opacity="0.10"/>
<rect x="598.30" y="165.20" width="0.60" height="5.40" fill="#000" stroke="none" stroke-width="1" fill-opacity="0.10"/>
<rect x="605.00" y="165.20" width="0.60" height="5.40" fill="#000" stroke="none" stroke-width="1" fill-opacity="0.10"/>
<rect x="606.80" y="165.20" width="1.20" height="5.40" fill="#000" stroke="none" stroke-width="1" fill-opacity="0.10"/>
<rect x="608.00" y="165.20" width="1.40" height="5.40" fill="#000" stroke="none" stroke-width="1" fill-opacity="0.10"/>
<rect x="609.40" y="165.20" width="1.60" height="5.40" fill="#000" stroke="none" stroke-width="1" fill-opacity="0.10"/>
<rect x="611.60" y="165.20" width="1.40" height="5.40" fill="#000" stroke="none" stroke-width="1" fill-opacity="0.10"/>
<rect x="613.60" y="165.20" width="1.00" height="5.40" fill="#000" stroke="none" stroke-width="1" fill-opacity="0.10"/>
<rect x="615.00" y="165.20" width="1.00" height="5.40" fill="#000" stroke="none" stroke-width="1" fill-opacity="0.10"/>
<rect x="617.00" y="165.20" width="1.00" height="5.40" fill="#000" stroke="none" stroke-width="1" fill-opacity="0.10"/>
<rect x="618.40" y="165.20" width="0.60" height="5.40" fill="#000" stroke="none" stroke-width="1" fill-opacity="0.10"/>
<rect x="620.60" y="165.20" width="1.00" height="5.40" fill="#000" stroke="none" stroke-width="1" fill-opacity="0.10"/>
<rect x="622.00" y="165.20" width="1.00" height="5.40" fill="#000" stroke="none" stroke-width="1" fill-opacity="0.10"/>
<rect x="624.00" y="165.20" width="1.00" height="5.40" fill="#000" stroke="none" stroke-width="1" fill-opacity="0.10"/>
<rect x="626.00" y="165.20" width="0.60" height="5.40" fill="#000" stroke="none" stroke-width="1" fill-opacity="0.10"/>
<rect x="627.40" y="165.20" width="1.20" height="5.40" fill="#000" stroke="none" stroke-width="1" fill-opacity="0.10"/>
<rect x="628.80" y="165.20" width="1.60" height="5.40" fill="#000" stroke="none" stroke-width="1" fill-opacity="0.10"/>
<rect x="630.40" y="165.20" width="1.40" height="5.40" fill="#000" stroke="none" stroke-width="1" fill-opacity="0.10"/>
<rect x="632.00" y="165.20" width="1.00" height="5.40" fill="#000" stroke="none" stroke-width="1" fill-opacity="0.10"/>
<rect x="633.40" y="165.20" width="1.00" height="5.40" fill="#000" stroke="none" stroke-width="1" fill-opacity="0.10"/>
<rect x="635.00" y="165.20" width="1.00" height="5.40" fill="#000" stroke="none" stroke-width="1" fill-opacity="0.10"/>
<rect x="637.00" y="165.20" width="1.00" height="5.40" fill="#000" stroke="none" stroke-width="1" fill-opacity="0.10"/>
<rect x="639.00" y="165.20" width="1.00" height="5.40" fill="#000" stroke="none" stroke-width="1" fill-opacity="0.10"/>
<rect x="640.40" y="165.20" width="1.60" height="5.40" fill="#000" stroke="none" stroke-width="1" fill-opacity="0.10"/>
<rect x="642.40" y="165.20" width="1.90" height="5.40" fill="#000" stroke="none" stroke-width="1" fill-opacity="0.10"/>
<rect x="616.00" y="165.20" width="1.00" height="5.40" fill="#000" stroke="none" stroke-width="1" fill-opacity="0.10"/>
<rect x="619.00" y="165.20" width="1.40" height="5.40" fill="#000" stroke="none" stroke-width="1" fill-opacity="0.10"/>
<rect x="648.60" y="165.20" width="0.80" height="5.40" fill="#000" stroke="none" stroke-width="1" fill-opacity="0.10"/>
<rect x="655.40" y="165.20" width="1.00" height="5.40" fill="#000" stroke="none" stroke-width="1" fill-opacity="0.10"/>
<rect x="656.60" y="165.20" width="0.80" height="5.40" fill="#000" stroke="none" stroke-width="1" fill-opacity="0.10"/>
<rect x="658.00" y="165.20" width="1.40" height="5.40" fill="#000" stroke="none" stroke-width="1" fill-opacity="0.10"/>
<rect x="659.60" y="165.20" width="1.00" height="5.40" fill="#000" stroke="none" stroke-width="1" fill-opacity="0.10"/>
<rect x="661.40" y="165.20" width="0.60" height="5.40" fill="#000" stroke="none" stroke-width="1" fill-opacity="0.10"/>
<rect x="664.40" y="165.20" width="0.60" height="5.40" fill="#000" stroke="none" stroke-width="1" fill-opacity="0.10"/>
<line x1="520.70" y1="165.20" x2="681.60" y2="165.20" stroke="#d8d8d8" stroke-width="0.4" />
<line x1="520.70" y1="170.60" x2="681.60" y2="170.60" stroke="#d8d8d8" stroke-width="0.4" />
<line x1="520.70" y1="175.40" x2="681.60" y2="175.40" stroke="#ececec" stroke-width="0.5" />
<text x="518.50" y="177.00" font-size="4.6" font-weight="normal" fill="#777" text-anchor="end" >2</text>
<text x="518.50" y="188.40" font-size="4.6" font-weight="normal" fill="#777" text-anchor="end" >0</text>
<line x1="520.70" y1="198.30" x2="681.60" y2="198.30" stroke="#ececec" stroke-width="0.5" />
<text x="518.50" y="199.90" font-size="4.6" font-weight="normal" fill="#777" text-anchor="end" >-2</text>
<line x1="520.70" y1="209.90" x2="681.60" y2="209.90" stroke="#ececec" stroke-width="0.5" />
<text x="518.50" y="211.50" font-size="4.6" font-weight="normal" fill="#777" text-anchor="end" >-4</text>
<line x1="538.48" y1="171.00" x2="538.48" y2="215.00" stroke="#ececec" stroke-width="0.5" />
<line x1="556.16" y1="171.00" x2="556.16" y2="215.00" stroke="#ececec" stroke-width="0.5" />
<line x1="573.84" y1="171.00" x2="573.84" y2="215.00" stroke="#ececec" stroke-width="0.5" />
<line x1="591.52" y1="171.00" x2="591.52" y2="215.00" stroke="#ececec" stroke-width="0.5" />
<line x1="609.20" y1="171.00" x2="609.20" y2="215.00" stroke="#ececec" stroke-width="0.5" />
<line x1="626.88" y1="171.00" x2="626.88" y2="215.00" stroke="#ececec" stroke-width="0.5" />
<line x1="644.56" y1="171.00" x2="644.56" y2="215.00" stroke="#ececec" stroke-width="0.5" />
<line x1="662.24" y1="171.00" x2="662.24" y2="215.00" stroke="#ececec" stroke-width="0.5" />
<line x1="679.92" y1="171.00" x2="679.92" y2="215.00" stroke="#ececec" stroke-width="0.5" />
<path d="M521.0 186.8 L521.0 171.5 L522.0 177 L524.0 179.8 L530.0 181.4 L555.0 183.6 L573.0 186.8 Z" fill="#c2c2c2"/>
<path d="M606.8 186.8 L624.8 187.5 L643.4 189.0 L658.3 190.6 L667.0 192.4 L670.1 194.3 L672.0 197.4 L673.2 204.8 L673.8 213.2 L674.3 213.2 L674.3 186.8 Z" fill="#c2c2c2"/>
<line x1="573.00" y1="186.80" x2="573.00" y2="215.00" stroke="#aaaaaa" stroke-width="0.5" stroke-dasharray="1,1"/>
<text x="572.50" y="194.80" font-size="4.6" font-weight="normal" fill="#444" text-anchor="middle" textLength="29.40" lengthAdjust="spacingAndGlyphs" >Zero cross at 5821</text>
<text x="628.20" y="214.00" font-size="4.3" font-weight="normal" fill="#3b3be0" text-anchor="middle" textLength="54.50" lengthAdjust="spacingAndGlyphs" >'CDAlow' (negatively correlated)</text>
<text x="548.60" y="174.00" font-size="4.3" font-weight="normal" fill="#e02020" text-anchor="middle" textLength="54.00" lengthAdjust="spacingAndGlyphs" >'CDA-High' (positively correlated)</text>
<text x="548.20" y="181.60" font-size="11.2" font-weight="bold" fill="#fc1c1c" text-anchor="middle" textLength="53.40" lengthAdjust="spacingAndGlyphs" >CDA-High</text>
<text x="643.80" y="181.60" font-size="11.2" font-weight="bold" fill="#3a78c8" text-anchor="middle" textLength="51.80" lengthAdjust="spacingAndGlyphs" >CDA-Low</text>
<text x="520.80" y="221.70" font-size="4.6" font-weight="normal" fill="#555" text-anchor="middle" >0</text>
<text x="538.48" y="221.70" font-size="4.6" font-weight="normal" fill="#555" text-anchor="middle" >2,000</text>
<text x="556.16" y="221.70" font-size="4.6" font-weight="normal" fill="#555" text-anchor="middle" >4,000</text>
<text x="573.84" y="221.70" font-size="4.6" font-weight="normal" fill="#555" text-anchor="middle" >6,000</text>
<text x="591.52" y="221.70" font-size="4.6" font-weight="normal" fill="#555" text-anchor="middle" >8,000</text>
<text x="609.20" y="221.70" font-size="4.6" font-weight="normal" fill="#555" text-anchor="middle" >10,000</text>
<text x="626.88" y="221.70" font-size="4.6" font-weight="normal" fill="#555" text-anchor="middle" >12,000</text>
<text x="644.56" y="221.70" font-size="4.6" font-weight="normal" fill="#555" text-anchor="middle" >14,000</text>
<text x="662.24" y="221.70" font-size="4.6" font-weight="normal" fill="#555" text-anchor="middle" >16,000</text>
<text x="679.92" y="221.70" font-size="4.6" font-weight="normal" fill="#555" text-anchor="middle" >18,000</text>
<text x="601.00" y="227.60" font-size="5.4" font-weight="normal" fill="#222" text-anchor="middle" textLength="50.00" lengthAdjust="spacingAndGlyphs" >Rank in Ordered Dataset</text>
<text x="509.90" y="109.2" style="font-family:Liberation Serif, serif" font-size="6.6" font-weight="bold" fill="#555" text-anchor="middle" textLength="57" lengthAdjust="spacingAndGlyphs" transform="rotate(-90 509.90 109.2)">Enrichment score (ES)</text>
<text x="512.00" y="193.00" font-size="5.0" font-weight="normal" fill="#555" text-anchor="middle" textLength="68.00" lengthAdjust="spacingAndGlyphs" transform="rotate(-90 512.00 193.00)" >Ranked list metric (Signal2Noise)</text>
<rect x="529.30" y="232.00" width="125.50" height="8.40" fill="#f2f2f2" stroke="#444" stroke-width="0.7" />
<line x1="531.00" y1="236.20" x2="536.00" y2="236.20" stroke="#3fe83f" stroke-width="1.2" />
<text x="537.70" y="237.90" font-size="4.9" font-weight="normal" fill="#222" text-anchor="start" textLength="36.30" lengthAdjust="spacingAndGlyphs" >Enrichment profile</text>
<line x1="576.00" y1="236.20" x2="581.00" y2="236.20" stroke="#666" stroke-width="0.6" />
<text x="582.80" y="237.90" font-size="4.9" font-weight="normal" fill="#222" text-anchor="start" textLength="8.00" lengthAdjust="spacingAndGlyphs" >Hits</text>
<line x1="601.60" y1="236.20" x2="606.70" y2="236.20" stroke="#ccc" stroke-width="0.6" />
<text x="608.80" y="237.90" font-size="4.9" font-weight="normal" fill="#222" text-anchor="start" textLength="44.50" lengthAdjust="spacingAndGlyphs" >Ranking metric scores</text>
<text x="0.80" y="290.80" font-size="19" font-weight="bold" fill="#000" text-anchor="start" >D</text>
<text x="111.10" y="315.10" font-size="12.5" font-weight="bold" fill="#111" text-anchor="middle" textLength="45.80" lengthAdjust="spacingAndGlyphs" >PFK158</text>
<line x1="67.40" y1="344.60" x2="67.40" y2="477.00" stroke="#1a1a1a" stroke-width="1.4" />
<line x1="61.40" y1="476.30" x2="155.00" y2="476.30" stroke="#1a1a1a" stroke-width="1.4" />
<line x1="61.40" y1="345.20" x2="67.40" y2="345.20" stroke="#1a1a1a" stroke-width="1.4" />
<text x="59.60" y="350.00" font-size="12.2" font-weight="bold" fill="#111" text-anchor="end" textLength="12.80" lengthAdjust="spacingAndGlyphs" >60</text>
<line x1="61.40" y1="389.20" x2="67.40" y2="389.20" stroke="#1a1a1a" stroke-width="1.4" />
<text x="59.60" y="394.00" font-size="12.2" font-weight="bold" fill="#111" text-anchor="end" textLength="12.80" lengthAdjust="spacingAndGlyphs" >40</text>
<line x1="61.40" y1="432.80" x2="67.40" y2="432.80" stroke="#1a1a1a" stroke-width="1.4" />
<text x="59.60" y="437.60" font-size="12.2" font-weight="bold" fill="#111" text-anchor="end" textLength="12.80" lengthAdjust="spacingAndGlyphs" >20</text>
<line x1="61.40" y1="476.30" x2="67.40" y2="476.30" stroke="#1a1a1a" stroke-width="1.4" />
<text x="59.60" y="481.10" font-size="12.2" font-weight="bold" fill="#111" text-anchor="end" textLength="6.20" lengthAdjust="spacingAndGlyphs" >0</text>
<line x1="92.20" y1="476.30" x2="92.20" y2="482.30" stroke="#1a1a1a" stroke-width="1.4" />
<line x1="129.40" y1="476.30" x2="129.40" y2="482.30" stroke="#1a1a1a" stroke-width="1.4" />
<text x="39.60" y="409.80" font-size="12.2" font-weight="bold" fill="#111" text-anchor="middle" textLength="54.60" lengthAdjust="spacingAndGlyphs" transform="rotate(-90 39.60 409.80)" >IC50 (μM)</text>
<text x="96.80" y="493.10" font-size="12.6" font-weight="bold" fill="#111" text-anchor="end" textLength="57.50" lengthAdjust="spacingAndGlyphs" transform="rotate(-45 96.80 493.10)" >CDA-Low</text>
<text x="134.00" y="493.10" font-size="12.6" font-weight="bold" fill="#111" text-anchor="end" textLength="62.00" lengthAdjust="spacingAndGlyphs" transform="rotate(-45 134.00 493.10)" >CDA-High</text>
<path d="M91.9 363.4 L91.9 344.8 L129.6 344.8 L129.6 353.0" fill="none" stroke="#1a1a1a" stroke-width="1.4"/>
<text x="110.90" y="338.90" font-size="12.6" font-weight="normal" fill="#111" text-anchor="middle" textLength="12.60" lengthAdjust="spacingAndGlyphs" >ns</text>
<line x1="92.00" y1="371.40" x2="92.00" y2="418.00" stroke="#2f2ff2" stroke-width="1.2" stroke-opacity="0.8"/>
<line x1="86.30" y1="371.40" x2="98.60" y2="371.40" stroke="#2f2ff2" stroke-width="1.2" stroke-opacity="0.8"/>
<line x1="86.30" y1="418.00" x2="98.60" y2="418.00" stroke="#2f2ff2" stroke-width="1.2" stroke-opacity="0.8"/>
<line x1="80.10" y1="381.40" x2="104.70" y2="381.40" stroke="#2f2ff2" stroke-width="2.6" stroke-opacity="0.9"/>
<circle cx="92.00" cy="371.40" r="3.40" fill="#2f2ff2" fill-opacity="0.68"/>
<circle cx="92.00" cy="381.40" r="3.40" fill="#2f2ff2" fill-opacity="0.68"/>
<circle cx="92.00" cy="418.00" r="3.40" fill="#2f2ff2" fill-opacity="0.68"/>
<line x1="129.60" y1="360.10" x2="129.60" y2="436.20" stroke="#f42c3c" stroke-width="1.2" stroke-opacity="0.8"/>
<line x1="123.30" y1="360.10" x2="135.90" y2="360.10" stroke="#f42c3c" stroke-width="1.2" stroke-opacity="0.8"/>
<line x1="123.30" y1="436.20" x2="135.90" y2="436.20" stroke="#f42c3c" stroke-width="1.2" stroke-opacity="0.8"/>
<rect x="117.60" y="363.00" width="24.10" height="64.40" fill="#f27880" stroke="#f42c3c" stroke-width="1.2" stroke-opacity="0.8"/>
<line x1="117.60" y1="386.30" x2="141.70" y2="386.30" stroke="#f42c3c" stroke-width="1.2" />
<circle cx="129.60" cy="360.10" r="3.40" fill="#f42c3c" fill-opacity="0.68"/>
<circle cx="129.60" cy="369.00" r="3.40" fill="#f42c3c" fill-opacity="0.68"/>
<circle cx="129.60" cy="404.00" r="3.40" fill="#f42c3c" fill-opacity="0.68"/>
<circle cx="129.60" cy="436.20" r="3.40" fill="#f42c3c" fill-opacity="0.68"/>
<text x="245.00" y="290.60" font-size="19" font-weight="bold" fill="#000" text-anchor="start" >E</text>
<text x="388.10" y="308.40" font-size="14" font-weight="bold" fill="#111" text-anchor="middle" textLength="78.60" lengthAdjust="spacingAndGlyphs" >Phenformin</text>
<line x1="338.60" y1="328.80" x2="338.60" y2="477.70" stroke="#1a1a1a" stroke-width="1.4" />
<line x1="332.60" y1="477.00" x2="437.00" y2="477.00" stroke="#1a1a1a" stroke-width="1.4" />
<line x1="332.60" y1="329.40" x2="338.60" y2="329.40" stroke="#1a1a1a" stroke-width="1.4" />
<text x="331.00" y="335.10" font-size="13.0" font-weight="bold" fill="#111" text-anchor="end" textLength="18.80" lengthAdjust="spacingAndGlyphs" >1.5</text>
<line x1="332.60" y1="378.60" x2="338.60" y2="378.60" stroke="#1a1a1a" stroke-width="1.4" />
<text x="331.00" y="384.30" font-size="13.0" font-weight="bold" fill="#111" text-anchor="end" textLength="18.80" lengthAdjust="spacingAndGlyphs" >1.0</text>
<line x1="332.60" y1="427.80" x2="338.60" y2="427.80" stroke="#1a1a1a" stroke-width="1.4" />
<text x="331.00" y="433.50" font-size="13.0" font-weight="bold" fill="#111" text-anchor="end" textLength="18.80" lengthAdjust="spacingAndGlyphs" >0.5</text>
<line x1="332.60" y1="477.00" x2="338.60" y2="477.00" stroke="#1a1a1a" stroke-width="1.4" />
<text x="331.00" y="482.70" font-size="13.0" font-weight="bold" fill="#111" text-anchor="end" textLength="18.80" lengthAdjust="spacingAndGlyphs" >0.0</text>
<line x1="366.60" y1="477.00" x2="366.60" y2="483.00" stroke="#1a1a1a" stroke-width="1.4" />
<line x1="408.60" y1="477.00" x2="408.60" y2="483.00" stroke="#1a1a1a" stroke-width="1.4" />
<text x="302.20" y="402.00" font-size="13.2" font-weight="bold" fill="#111" text-anchor="middle" textLength="65.00" lengthAdjust="spacingAndGlyphs" transform="rotate(-90 302.20 402.00)" >IC50 (mM)</text>
<text x="371.80" y="496.80" font-size="14.3" font-weight="bold" fill="#111" text-anchor="end" textLength="63.50" lengthAdjust="spacingAndGlyphs" transform="rotate(-45 371.80 496.80)" >CDA-Low</text>
<text x="413.80" y="496.80" font-size="14.3" font-weight="bold" fill="#111" text-anchor="end" textLength="68.50" lengthAdjust="spacingAndGlyphs" transform="rotate(-45 413.80 496.80)" >CDA-High</text>
<path d="M366.6 371.8 L366.6 363.6 L408.8 363.6 L408.8 394.6" fill="none" stroke="#1a1a1a" stroke-width="1.4"/>
<line x1="388.10" y1="348.10" x2="388.10" y2="356.50" stroke="#111" stroke-width="1.6"/>
<line x1="384.46" y1="350.20" x2="391.74" y2="354.40" stroke="#111" stroke-width="1.6"/>
<line x1="384.46" y1="354.40" x2="391.74" y2="350.20" stroke="#111" stroke-width="1.6"/>
<line x1="366.60" y1="381.40" x2="366.60" y2="396.50" stroke="#2f2ff2" stroke-width="1.2" stroke-opacity="0.8"/>
<line x1="359.80" y1="396.50" x2="373.80" y2="396.50" stroke="#2f2ff2" stroke-width="1.2" stroke-opacity="0.8"/>
<line x1="352.90" y1="381.40" x2="380.70" y2="381.40" stroke="#2f2ff2" stroke-width="2.7" stroke-opacity="0.9"/>
<circle cx="356.60" cy="381.40" r="3.70" fill="#2f2ff2" fill-opacity="0.68"/>
<circle cx="377.00" cy="381.40" r="3.70" fill="#2f2ff2" fill-opacity="0.68"/>
<circle cx="366.60" cy="396.50" r="3.70" fill="#2f2ff2" fill-opacity="0.68"/>
<line x1="408.60" y1="404.00" x2="408.60" y2="472.40" stroke="#f42c3c" stroke-width="1.2" stroke-opacity="0.8"/>
<line x1="401.90" y1="404.00" x2="415.70" y2="404.00" stroke="#f42c3c" stroke-width="1.2" stroke-opacity="0.8"/>
<line x1="398.00" y1="472.40" x2="415.60" y2="472.40" stroke="#f42c3c" stroke-width="1.2" stroke-opacity="0.8"/>
<rect x="395.50" y="410.60" width="26.90" height="61.00" fill="#f27880" stroke="#f42c3c" stroke-width="1.2" stroke-opacity="0.8"/>
<line x1="395.50" y1="448.40" x2="422.40" y2="448.40" stroke="#f42c3c" stroke-width="1.2" />
<circle cx="408.60" cy="404.00" r="3.70" fill="#f42c3c" fill-opacity="0.68"/>
<circle cx="408.60" cy="429.00" r="3.70" fill="#f42c3c" fill-opacity="0.68"/>
<circle cx="419.20" cy="468.00" r="3.70" fill="#f42c3c" fill-opacity="0.68"/>
<circle cx="398.20" cy="473.00" r="3.70" fill="#f42c3c" fill-opacity="0.68"/>
<text x="490.20" y="290.60" font-size="19" font-weight="bold" fill="#000" text-anchor="start" >F</text>
<text x="609.40" y="306.70" font-size="13.5" font-weight="bold" fill="#111" text-anchor="middle" textLength="79.50" lengthAdjust="spacingAndGlyphs" >Antimycin A</text>
<line x1="560.50" y1="327.60" x2="560.50" y2="476.90" stroke="#1a1a1a" stroke-width="1.4" />
<line x1="554.50" y1="476.20" x2="659.00" y2="476.20" stroke="#1a1a1a" stroke-width="1.4" />
<line x1="554.50" y1="328.20" x2="560.50" y2="328.20" stroke="#1a1a1a" stroke-width="1.4" />
<text x="552.90" y="333.90" font-size="13.0" font-weight="bold" fill="#111" text-anchor="end" textLength="18.40" lengthAdjust="spacingAndGlyphs" >1.5</text>
<line x1="554.50" y1="377.60" x2="560.50" y2="377.60" stroke="#1a1a1a" stroke-width="1.4" />
<text x="552.90" y="383.30" font-size="13.0" font-weight="bold" fill="#111" text-anchor="end" textLength="18.40" lengthAdjust="spacingAndGlyphs" >1.0</text>
<line x1="554.50" y1="427.00" x2="560.50" y2="427.00" stroke="#1a1a1a" stroke-width="1.4" />
<text x="552.90" y="432.70" font-size="13.0" font-weight="bold" fill="#111" text-anchor="end" textLength="18.40" lengthAdjust="spacingAndGlyphs" >0.5</text>
<line x1="554.50" y1="476.20" x2="560.50" y2="476.20" stroke="#1a1a1a" stroke-width="1.4" />
<text x="552.90" y="481.90" font-size="13.0" font-weight="bold" fill="#111" text-anchor="end" textLength="18.40" lengthAdjust="spacingAndGlyphs" >0.0</text>
<line x1="588.20" y1="476.20" x2="588.20" y2="482.20" stroke="#1a1a1a" stroke-width="1.4" />
<line x1="630.40" y1="476.20" x2="630.40" y2="482.20" stroke="#1a1a1a" stroke-width="1.4" />
<text x="524.20" y="400.90" font-size="13.7" font-weight="bold" fill="#111" text-anchor="middle" textLength="63.60" lengthAdjust="spacingAndGlyphs" transform="rotate(-90 524.20 400.90)" >IC50 (μM)</text>
<text x="593.40" y="496.00" font-size="14.3" font-weight="bold" fill="#111" text-anchor="end" textLength="63.50" lengthAdjust="spacingAndGlyphs" transform="rotate(-45 593.40 496.00)" >CDA-Low</text>
<text x="635.60" y="496.00" font-size="14.3" font-weight="bold" fill="#111" text-anchor="end" textLength="68.50" lengthAdjust="spacingAndGlyphs" transform="rotate(-45 635.60 496.00)" >CDA-High</text>
<path d="M588.2 369.7 L588.2 361.2 L630.4 361.2 L630.4 431.0" fill="none" stroke="#1a1a1a" stroke-width="1.4"/>
<line x1="604.80" y1="345.90" x2="604.80" y2="354.30" stroke="#111" stroke-width="1.6"/>
<line x1="601.16" y1="348.00" x2="608.44" y2="352.20" stroke="#111" stroke-width="1.6"/>
<line x1="601.16" y1="352.20" x2="608.44" y2="348.00" stroke="#111" stroke-width="1.6"/>
<line x1="615.50" y1="345.90" x2="615.50" y2="354.30" stroke="#111" stroke-width="1.6"/>
<line x1="611.86" y1="348.00" x2="619.14" y2="352.20" stroke="#111" stroke-width="1.6"/>
<line x1="611.86" y1="352.20" x2="619.14" y2="348.00" stroke="#111" stroke-width="1.6"/>
<line x1="588.20" y1="378.50" x2="588.20" y2="407.20" stroke="#2f2ff2" stroke-width="1.2" stroke-opacity="0.8"/>
<line x1="581.80" y1="378.50" x2="595.40" y2="378.50" stroke="#2f2ff2" stroke-width="1.2" stroke-opacity="0.8"/>
<line x1="576.00" y1="407.20" x2="595.00" y2="407.20" stroke="#2f2ff2" stroke-width="1.2" stroke-opacity="0.8"/>
<line x1="574.80" y1="402.20" x2="602.40" y2="402.20" stroke="#2f2ff2" stroke-width="2.6" stroke-opacity="0.9"/>
<circle cx="588.20" cy="378.50" r="3.70" fill="#2f2ff2" fill-opacity="0.68"/>
<circle cx="598.60" cy="402.20" r="3.70" fill="#2f2ff2" fill-opacity="0.68"/>
<circle cx="578.00" cy="407.40" r="3.70" fill="#2f2ff2" fill-opacity="0.68"/>
<line x1="630.40" y1="439.40" x2="630.40" y2="466.40" stroke="#f42c3c" stroke-width="1.2" stroke-opacity="0.8"/>
<line x1="624.00" y1="439.40" x2="641.00" y2="439.40" stroke="#f42c3c" stroke-width="1.2" stroke-opacity="0.8"/>
<line x1="623.00" y1="466.40" x2="637.00" y2="466.40" stroke="#f42c3c" stroke-width="1.2" stroke-opacity="0.8"/>
<rect x="617.20" y="441.80" width="26.80" height="20.60" fill="#f27880" stroke="#f42c3c" stroke-width="1.2" stroke-opacity="0.8"/>
<line x1="617.20" y1="450.00" x2="644.00" y2="450.00" stroke="#f42c3c" stroke-width="1.2" />
<circle cx="620.20" cy="446.60" r="3.70" fill="#f42c3c" fill-opacity="0.68"/>
<circle cx="641.00" cy="439.40" r="3.70" fill="#f42c3c" fill-opacity="0.68"/>
<circle cx="630.40" cy="454.00" r="3.70" fill="#f42c3c" fill-opacity="0.68"/>
<circle cx="630.40" cy="466.60" r="3.70" fill="#f42c3c" fill-opacity="0.68"/>
</svg>
</body></html>
